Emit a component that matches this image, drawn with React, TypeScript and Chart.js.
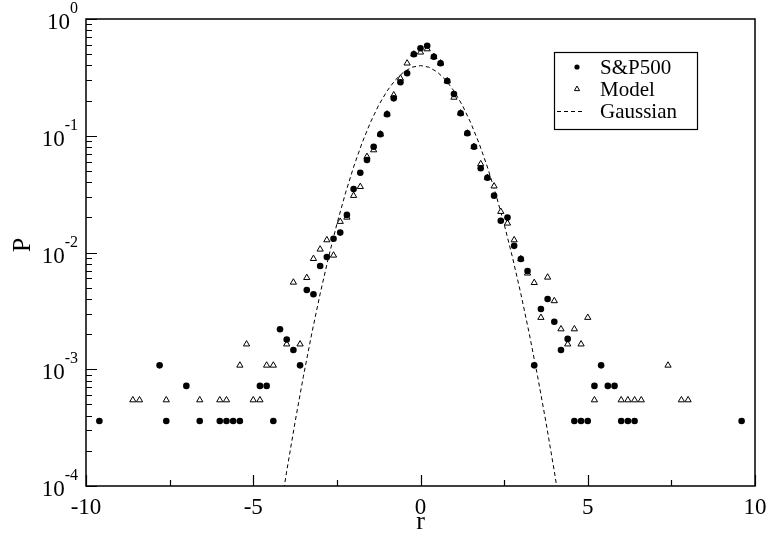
import React, { useEffect, useRef } from "react";
import { Chart, registerables } from "chart.js";

Chart.register(...registerables);

// ---- data ----
const spR = [
  -9.6, -7.8, -7.6, -7.0, -6.6, -6.0, -5.8, -5.6, -5.4, -4.8, -4.6, -4.4, -4.2, -4.0, -3.8, -3.6,
  -3.4, -3.2, -3.0, -2.8, -2.6, -2.4, -2.2, -2.0, -1.8, -1.6, -1.4, -1.2, -1.0, -0.8, -0.6, -0.4,
  -0.2, 0.0, 0.2, 0.4, 0.6, 0.8, 1.0, 1.2, 1.4, 1.6, 1.8, 2.0, 2.2, 2.4, 2.6, 2.8, 3.0, 3.2, 3.4,
  3.6, 3.8, 4.0, 4.2, 4.4, 4.6, 4.8, 5.0, 5.2, 5.4, 5.6, 5.8, 6.0, 6.2, 6.4, 9.6,
];
const spP = [
  3.6e-4, 1.08e-3, 3.6e-4, 7.2e-4, 3.6e-4, 3.6e-4, 3.6e-4, 3.6e-4, 3.6e-4, 7.2e-4, 7.2e-4, 3.6e-4,
  2.2e-3, 1.8e-3, 1.46e-3, 1.08e-3,
  4.77e-3, 4.39e-3, 7.66e-3, 9.15e-3, 1.31e-2, 1.48e-2, 2.1e-2, 3.5e-2, 4.82e-2, 6.2e-2, 8.05e-2,
  0.103, 0.153, 0.209, 0.287, 0.343,
  0.499, 0.561, 0.59, 0.475, 0.418, 0.294, 0.228, 0.156, 0.105, 0.0805, 0.0526, 0.0437, 0.0307,
  0.0187, 0.0199, 0.0114, 8.8e-3, 6.94e-3, 1.08e-3,
  3.28e-3, 4.0e-3, 2.55e-3, 1.46e-3, 1.82e-3, 3.6e-4, 3.6e-4, 3.6e-4, 7.2e-4, 1.08e-3, 7.2e-4,
  7.2e-4, 3.6e-4, 3.6e-4, 3.6e-4, 3.6e-4,
];

const mdR = [
  -8.6, -8.4, -7.6, -6.6, -6.0, -5.8, -5.4, -5.2, -5.0, -4.8, -4.6, -4.4, -4.0, -3.8, -3.6, -3.4,
  -3.2, -3.0, -2.8, -2.6, -2.4, -2.2, -2.0, -1.8, -1.6, -1.4, -1.2, -1.0, -0.8, -0.6, -0.4, -0.2,
  0.0, 0.2, 0.4, 0.6, 0.8, 1.0, 1.2, 1.4, 1.6, 1.8, 2.0, 2.2, 2.4, 2.6, 2.8, 3.0, 3.2, 3.4, 3.6,
  3.8, 4.0, 4.2, 4.4, 4.6, 4.8, 5.0, 5.2, 6.0, 6.2, 6.4, 6.6, 7.4, 7.8, 8.0,
];
const mdP = [
  5.45e-4, 5.45e-4, 5.45e-4, 5.45e-4, 5.45e-4, 5.45e-4, 1.08e-3, 1.64e-3, 5.45e-4, 5.45e-4,
  1.08e-3, 1.08e-3, 1.64e-3, 5.55e-3, 1.64e-3, 6.08e-3,
  8.85e-3, 1.065e-2, 1.28e-2, 9.46e-3, 1.84e-2, 2.0e-2, 3.07e-2, 3.66e-2, 6.62e-2, 7.55e-2,
  0.103, 0.153, 0.223, 0.31, 0.418, 0.499,
  0.519, 0.553, 0.475, 0.418, 0.294, 0.213, 0.156, 0.105, 0.0805, 0.0573, 0.0437, 0.037, 0.0224,
  0.0178, 0.0128, 8.8e-3, 6.64e-3, 5.51e-3, 2.77e-3,
  6.13e-3, 3.85e-3, 2.21e-3, 1.64e-3, 2.21e-3, 1.64e-3, 2.77e-3, 5.45e-4, 5.45e-4, 5.45e-4,
  5.45e-4, 5.45e-4, 1.08e-3, 5.45e-4, 5.45e-4,
];

const gaussR = [
  -4.25, -4.0, -3.75, -3.5, -3.25, -3.0, -2.75, -2.5, -2.25, -2.0, -1.75, -1.5, -1.25, -1.0, -0.75,
  -0.5, -0.25, 0.0, 0.25, 0.5, 0.75, 1.0, 1.25, 1.5, 1.75, 2.0, 2.25, 2.5, 2.75, 3.0, 3.25, 3.5,
  3.75, 4.0, 4.25,
];
const gaussP = [
  4.77e-5, 1.338e-4, 3.526e-4, 8.727e-4, 2.029e-3, 4.432e-3, 9.09e-3, 1.753e-2, 3.174e-2, 5.399e-2,
  8.628e-2, 0.12952, 0.18265, 0.24197, 0.30114, 0.35207, 0.38667, 0.39894, 0.38667, 0.35207,
  0.30114, 0.24197, 0.18265, 0.12952, 8.628e-2, 5.399e-2, 3.174e-2, 1.753e-2, 9.09e-3, 4.432e-3,
  2.029e-3, 8.727e-4, 3.526e-4, 1.338e-4, 4.77e-5,
];

const seriesLabels = ["S&P500", "Model", "Gaussian"];
const xTicks = [-10, -5, 0, 5, 10];
const xMinorTicks = [-7.5, -2.5, 2.5, 7.5];
const yExponents = [0, -1, -2, -3, -4];
const xTitle = "r";
const yTitle = "P";

const FONT = '"Liberation Serif", "Times New Roman", serif';

const axesPlugin = {
  id: "xmgraceAxes",
  afterDatasetsDraw(chart: any) {
    const { ctx, chartArea: a, scales } = chart;
    const x = scales.x;
    const y = scales.y;
    ctx.save();
    ctx.strokeStyle = "#000";
    ctx.fillStyle = "#000";
    ctx.lineWidth = 1.5;
    ctx.strokeRect(a.left, a.top, a.right - a.left, a.bottom - a.top);

    ctx.lineWidth = 1.2;
    ctx.beginPath();
    xTicks.forEach((v) => {
      const px = Math.round(x.getPixelForValue(v)) + 0.5;
      ctx.moveTo(px, a.bottom);
      ctx.lineTo(px, a.bottom - 11);
    });
    xMinorTicks.forEach((v) => {
      const px = Math.round(x.getPixelForValue(v)) + 0.5;
      ctx.moveTo(px, a.bottom);
      ctx.lineTo(px, a.bottom - 6);
    });
    yExponents.forEach((e) => {
      const base = Math.pow(10, e);
      const py = Math.round(y.getPixelForValue(base)) + 0.5;
      ctx.moveTo(a.left, py);
      ctx.lineTo(a.left + 11, py);
      if (e < 0) {
        for (let k = 2; k <= 9; k++) {
          const pm = Math.round(y.getPixelForValue(k * base)) + 0.5;
          ctx.moveTo(a.left, pm);
          ctx.lineTo(a.left + 6, pm);
        }
      }
    });
    ctx.stroke();

    // y tick labels: 10 with superscript exponent
    ctx.textBaseline = "alphabetic";
    ctx.textAlign = "right";
    yExponents.forEach((e) => {
      const py = y.getPixelForValue(Math.pow(10, e));
      const expStr = String(e);
      ctx.font = `16px ${FONT}`;
      const ew = ctx.measureText(expStr).width;
      const right = a.left - 8;
      ctx.fillText(expStr, right, py - 6);
      ctx.font = `23px ${FONT}`;
      ctx.fillText("10", right - ew, py + 10);
    });

    // x tick labels
    ctx.textAlign = "center";
    ctx.font = `23px ${FONT}`;
    xTicks.forEach((v) => {
      const px = x.getPixelForValue(v);
      ctx.fillText(String(v), px, a.bottom + 28);
    });

    // titles
    ctx.font = `26px ${FONT}`;
    ctx.fillText(xTitle, (a.left + a.right) / 2, a.bottom + 43);
    ctx.save();
    ctx.translate(30, 245);
    ctx.rotate(-Math.PI / 2);
    ctx.textAlign = "center";
    ctx.fillText(yTitle, 0, 0);
    ctx.restore();

    // legend box
    const bl = a.right - 201;
    const bt = a.top + 33;
    const bw = 143;
    const bh = 77;
    ctx.fillStyle = "#fff";
    ctx.fillRect(bl, bt, bw, bh);
    ctx.lineWidth = 1.2;
    ctx.strokeStyle = "#000";
    ctx.strokeRect(bl + 0.5, bt + 0.5, bw, bh);
    const rows = [bt + 15, bt + 37, bt + 59];
    const ds = chart.data.datasets;
    const mx = bl + 23;
    // circle
    ctx.fillStyle = "#000";
    ctx.beginPath();
    ctx.arc(mx, rows[0], 2.6, 0, Math.PI * 2);
    ctx.fill();
    // triangle
    ctx.beginPath();
    ctx.moveTo(mx, rows[1] - 3);
    ctx.lineTo(mx + 2.6, rows[1] + 1.6);
    ctx.lineTo(mx - 2.6, rows[1] + 1.6);
    ctx.closePath();
    ctx.fillStyle = "#fff";
    ctx.fill();
    ctx.lineWidth = 1;
    ctx.stroke();
    // dashed
    ctx.setLineDash([4, 3]);
    ctx.beginPath();
    ctx.moveTo(bl + 3, rows[2] + 0.5);
    ctx.lineTo(bl + 29, rows[2] + 0.5);
    ctx.stroke();
    ctx.setLineDash([]);
    ctx.fillStyle = "#000";
    ctx.textAlign = "left";
    ctx.textBaseline = "middle";
    ctx.font = `21px ${FONT}`;
    ds.forEach((d: any, i: number) => {
      ctx.fillText(d.label, bl + 46, rows[i] + 1);
    });
    ctx.restore();
  },
};

export default function App() {
  const ref = useRef<HTMLCanvasElement | null>(null);
  useEffect(() => {
    if (!ref.current) return;
    const chart = new Chart(ref.current, {
      type: "scatter",
      data: {
        datasets: [
          {
            label: seriesLabels[0],
            data: spR.map((r, i) => ({ x: r, y: spP[i] })),
            pointStyle: "circle",
            pointRadius: 3.3,
            pointBackgroundColor: "#000",
            pointBorderColor: "#000",
            pointBorderWidth: 0,
          },
          {
            label: seriesLabels[1],
            data: mdR.map((r, i) => ({ x: r, y: mdP[i] })),
            pointStyle: "triangle",
            pointRadius: 3.6,
            pointBackgroundColor: "#fff",
            pointBorderColor: "#000",
            pointBorderWidth: 1,
          },
          {
            label: seriesLabels[2],
            data: gaussR.map((r, i) => ({ x: r, y: gaussP[i] })),
            showLine: true,
            pointRadius: 0,
            borderColor: "#000",
            borderWidth: 1,
            borderDash: [4, 3],
            fill: false,
          },
        ],
      },
      options: {
        responsive: false,
        animation: false,
        devicePixelRatio: 1,
        layout: { padding: { left: 86, top: 19, right: 12, bottom: 50 } },
        plugins: { legend: { display: false }, tooltip: { enabled: false } },
        scales: {
          x: { type: "linear", min: -10, max: 10, display: false },
          y: { type: "logarithmic", min: 1e-4, max: 1, display: false },
        },
      },
      plugins: [axesPlugin],
    });
    return () => chart.destroy();
  }, []);
  return (
    <div style={{ position: "fixed", left: 0, top: 0, width: 767, height: 536, background: "#fff" }}>
      <canvas ref={ref} width={767} height={536} />
    </div>
  );
}
